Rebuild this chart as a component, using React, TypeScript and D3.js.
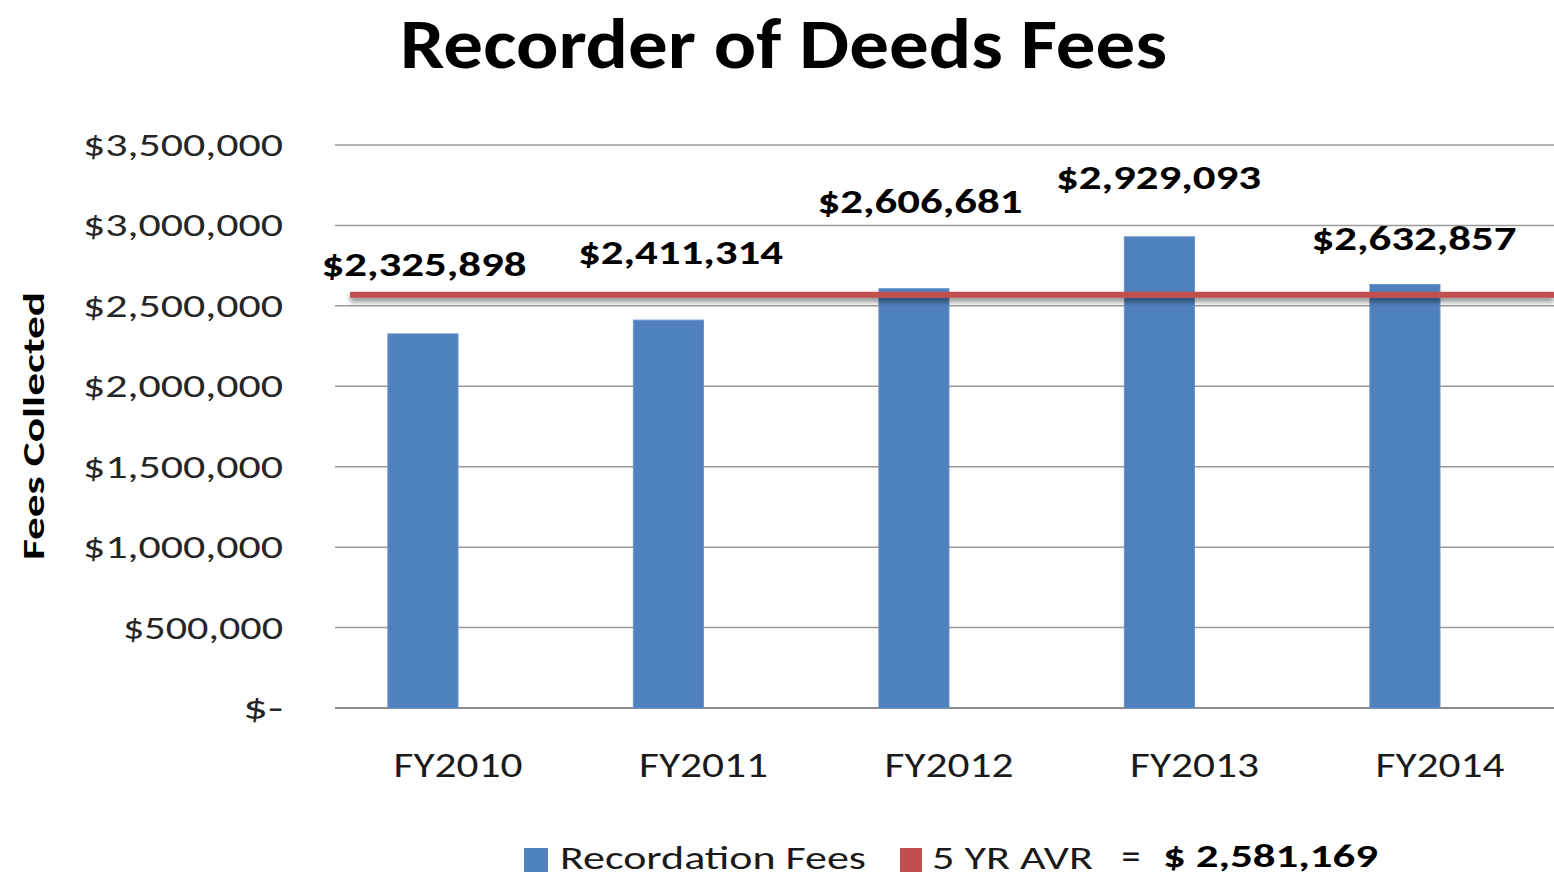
import React from "react";
import * as d3 from "d3";

const categories = ["FY2010", "FY2011", "FY2012", "FY2013", "FY2014"];
const fees = [2325898, 2411314, 2606681, 2929093, 2632857];
const average = 2581169;
const yTicks = [0, 500000, 1000000, 1500000, 2000000, 2500000, 3000000, 3500000];
const yTickLabels = ["$-", "$500,000", "$1,000,000", "$1,500,000", "$2,000,000", "$2,500,000", "$3,000,000", "$3,500,000"];
const feeLabels = ["$2,325,898", "$2,411,314", "$2,606,681", "$2,929,093", "$2,632,857"];
// manual label nudges (dx, dy from bar top), as placed in the original
const labelNudgeX = [1, 12, 6, -1, 9];
const labelNudgeY = [-69, -68, -87, -59, -46];

const W = 1554;
const H = 879;
const FONT = "Carlito, 'Open Sans', 'DejaVu Sans Condensed', sans-serif";
const BLUE = "#4F81BD";
const RED = "#C0504D";

export default function App() {
  const x = d3.scaleBand<string>().domain(categories).range([335.25, 1562.75]).paddingInner(0).paddingOuter(0);
  const sub = d3.scaleBand<string>().domain(["fees", "avgSlot"]).range([0, x.bandwidth()]).paddingInner(0).paddingOuter(0.75);
  const y = d3.scaleLinear().domain([0, 3500000]).range([708, 145]);
  const yAvg = y(average);

  return (
    <svg width={W} height={H} style={{ position: "absolute", left: 0, top: 0, background: "#fff" }} fontFamily={FONT}>
      <defs>
        <filter id="shadow" filterUnits="userSpaceOnUse" x={300} y={260} width={1300} height={80}>
          <feDropShadow dx="0" dy="4" stdDeviation="2.5" floodColor="#000" floodOpacity="0.45" />
        </filter>
      </defs>
      <rect x={0} y={0} width={W} height={H} fill="#fff" />
      {/* Title */}
      <text x={783.5} y={68} textAnchor="middle" fontSize={70} fontWeight="bold" fill="#000" textLength={767} lengthAdjust="spacingAndGlyphs">
        Recorder of Deeds Fees
      </text>

      {/* gridlines */}
      {yTicks.map((t) => (
        <line key={t} x1={335} x2={W} y1={y(t)} y2={y(t)} stroke={t === 0 ? "#8a8a8a" : "#9a9a9a"} strokeWidth={t === 0 ? 2 : 1.5} />
      ))}

      {/* y tick labels */}
      {yTicks.map((t, i) => (
        <text key={"l" + t} x={283} y={y(t)} textAnchor="end" dominantBaseline="central" fontSize={33} fill="#262626"
          textLength={yTickLabels[i].length * 20} lengthAdjust="spacingAndGlyphs">
          {yTickLabels[i]}
        </text>
      ))}

      {/* y axis title */}
      <text transform={`translate(33,426) rotate(-90)`} textAnchor="middle" dominantBaseline="central" fontSize={31} fontWeight="bold" fill="#000"
        textLength={268} lengthAdjust="spacingAndGlyphs">
        Fees Collected
      </text>

      {/* bars */}
      {categories.map((c, i) => (
        <rect key={c} x={(x(c) ?? 0) + (sub("fees") ?? 0)} y={y(fees[i])} width={sub.bandwidth()} height={y(0) - y(fees[i])}
          fill={BLUE} stroke="#6A95C8" strokeWidth={1} />
      ))}

      {/* average line */}
      <rect x={350} y={yAvg - 1} width={W - 350} height={6} fill={RED} filter="url(#shadow)" />

      {/* data labels */}
      {categories.map((c, i) => {
        const cx = (x(c) ?? 0) + (sub("fees") ?? 0) + sub.bandwidth() / 2 + labelNudgeX[i];
        return (
          <text key={"d" + c} x={cx} y={y(fees[i]) + labelNudgeY[i]} textAnchor="middle" dominantBaseline="central" fontSize={34} fontWeight="bold" fill="#000"
            textLength={205} lengthAdjust="spacingAndGlyphs">
            {feeLabels[i]}
          </text>
        );
      })}

      {/* x labels */}
      {categories.map((c) => (
        <text key={"x" + c} x={(x(c) ?? 0) + x.bandwidth() / 2} y={765} textAnchor="middle" dominantBaseline="central" fontSize={34} fill="#1a1a1a"
          textLength={129} lengthAdjust="spacingAndGlyphs">
          {c}
        </text>
      ))}

      {/* legend */}
      <rect x={524} y={848} width={24} height={24} fill={BLUE} />
      <text x={560} y={858} dominantBaseline="central" fontSize={33} fill="#1a1a1a" textLength={306} lengthAdjust="spacingAndGlyphs">Recordation Fees</text>
      <rect x={900} y={848} width={22} height={24} fill={RED} />
      <text x={932} y={858} dominantBaseline="central" fontSize={33} fill="#1a1a1a" textLength={161} lengthAdjust="spacingAndGlyphs">5 YR AVR</text>
      <text x={1131} y={856} textAnchor="middle" dominantBaseline="central" fontSize={38} fill="#1a1a1a">=</text>
      <text x={1163} y={856} dominantBaseline="central" fontSize={33} fontWeight="bold" fill="#000" textLength={215} lengthAdjust="spacingAndGlyphs">$ 2,581,169</text>
    </svg>
  );
}
